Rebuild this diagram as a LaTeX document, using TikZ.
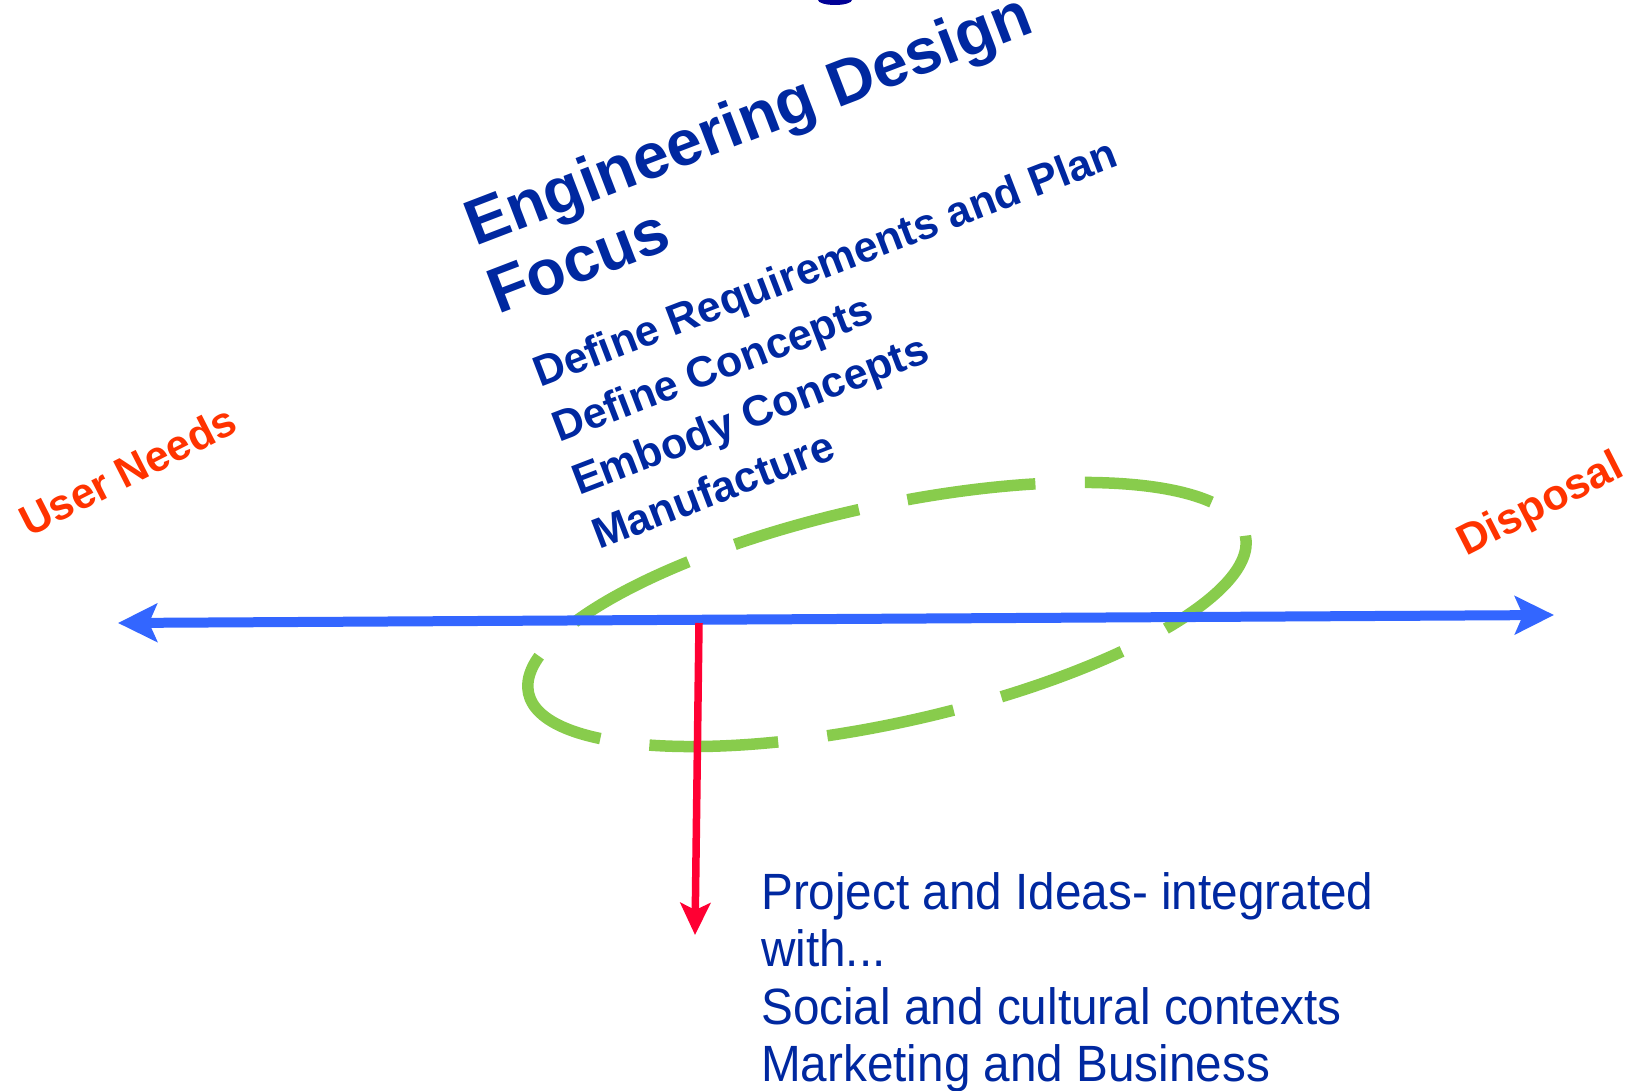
\documentclass[tikz,border=0pt]{standalone}
\usepackage{fontspec}
\setmainfont{Liberation Sans}
\newfontfamily\condfont[FakeStretch=0.935]{Liberation Sans}
\usetikzlibrary{arrows.meta}
\definecolor{titleblue}{RGB}{0,40,160}
\definecolor{darkblue}{RGB}{0,0,150}
\definecolor{labelred}{RGB}{255,51,0}
\definecolor{axisblue}{RGB}{51,102,255}
\definecolor{arrowred}{RGB}{255,0,51}
\definecolor{loopgreen}{RGB}{136,204,76}
\begin{document}
\begin{tikzpicture}[x=1pt,y=-1pt,
  title/.style={font=\bfseries\fontsize{64}{72}\selectfont, text=titleblue, rotate=21, anchor=base west, inner sep=0pt},
  stage/.style={font=\bfseries\fontsize{43}{50}\selectfont, text=titleblue, rotate=21, anchor=base west, inner sep=0pt},
  endlabel/.style={font=\bfseries\fontsize{43}{50}\selectfont, text=labelred, rotate=27, anchor=base west, inner sep=0pt},
  context/.style={font=\condfont\fontsize{51}{57}\selectfont, text=titleblue, anchor=base west, inner sep=0pt},
  axis/.style={draw=axisblue, line width=10pt, {Stealth[length=39pt,width=38pt,inset=8pt]}-{Stealth[length=39pt,width=38pt,inset=8pt]}},
  drop/.style={draw=arrowred, line width=7.5pt, -{Stealth[length=32pt,width=30pt,inset=7pt]}},
  loop/.style={draw=loopgreen, line width=11.5pt, dash pattern=on 129pt off 49.5pt}
]
\useasboundingbox (0,0) rectangle (1633,1091);

% fragment of a glyph cut off at the top edge
\fill[darkblue] (835,0) ellipse [x radius=17, y radius=5];

% ellipse
\coordinate (ec) at (887,614.5);
\draw[loop, rotate around={12.4:(ec)}] (ec) ellipse [x radius=367, y radius=108.5];

% axis
\coordinate (L) at (118,623);
\coordinate (R) at (1554,615);
\draw[axis] (L) -- (R);

% drop arrow
\coordinate (top) at (699,623);
\coordinate (bot) at (695,935);
\draw[drop] (top) -- (bot);

% titles
\node[title] (t1) at (475,247) {Engineering Design};
\node[title] (t2) at (498,315) {Focus};
\node[stage] (s1) at (540,388) {Define Requirements and Plan};
\node[stage] (s2) at (559,443) {Define Concepts};
\node[stage] (s3) at (579,496) {Embody Concepts};
\node[stage] (s4) at (599,550) {Manufacture};

\node[endlabel] (un) at (29,538) {User Needs};
\node[endlabel] (dp) at (1466,557) {Disposal};

\node[context] (c1) at (761,909) {Project and Ideas- integrated};
\node[context] (c2) at (761,966) {with...};
\node[context] (c3) at (761,1024) {Social and cultural contexts};
\node[context] (c4) at (761,1081) {Marketing and Business};
\end{tikzpicture}
\end{document}
